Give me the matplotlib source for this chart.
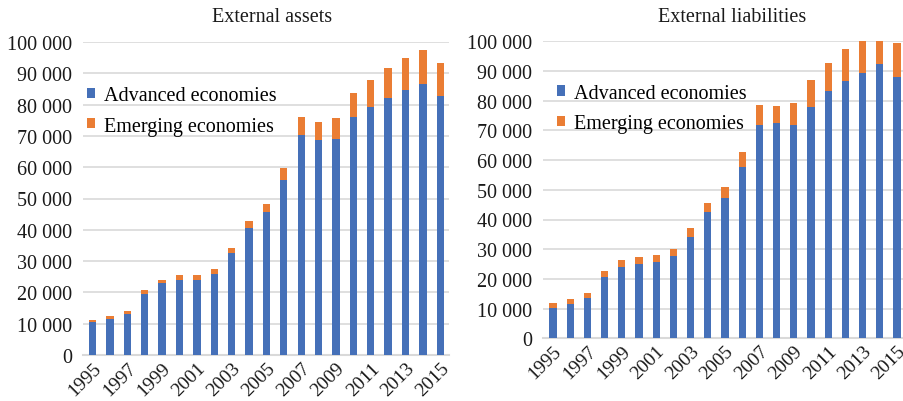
import matplotlib
matplotlib.use("Agg")
import matplotlib.pyplot as plt
from matplotlib.ticker import FuncFormatter, MultipleLocator
import numpy as np

years = list(range(1995, 2016))
tick_labels = [str(y) for y in years]

assets_advanced = [10400, 11600, 13200, 19600, 22900, 24100, 24000, 26000, 32500, 40500,
                   45600, 55900, 70400, 68700, 69000, 76100, 79300, 82200, 84700, 86600, 82800]
assets_total = [11100, 12600, 14200, 20800, 24100, 25400, 25400, 27600, 34300, 42700,
                48400, 59600, 75900, 74500, 75700, 83600, 87800, 91600, 95000, 97400, 93300]
liab_advanced = [10300, 11600, 13500, 20700, 24000, 25100, 25700, 27700, 34200, 42600,
                 47100, 57600, 71800, 72600, 71900, 78000, 83400, 86700, 89400, 92400, 88100]
liab_total = [11800, 13400, 15400, 22800, 26300, 27400, 27900, 30200, 37000, 45700,
              50900, 62600, 78400, 78200, 79100, 87000, 92800, 97500, 103000, 106000, 99300]

assets_emerging = [t - a for t, a in zip(assets_total, assets_advanced)]
liab_emerging = [t - a for t, a in zip(liab_total, liab_advanced)]

BLUE = "#4570B8"
ORANGE = "#EA7D34"
GRID = "#D9D9D9"
plt.rcParams["font.family"] = ["Liberation Serif", "DejaVu Serif"]

fig = plt.figure(figsize=(9.04, 4.02), dpi=100)

def fmt(v, pos):
    return f"{v:,.0f}".replace(",", " ")

def panel(rect, adv, emg, title, xlim, title_x, title_y, leg_anchor):
    ax = fig.add_axes(rect)
    x = np.arange(len(years))
    ax.bar(x, adv, width=0.42, color=BLUE, label="Advanced economies", zorder=3)
    ax.bar(x, emg, width=0.42, bottom=adv, color=ORANGE, label="Emerging economies", zorder=3)
    ax.set_ylim(0, 100000)
    ax.set_xlim(*xlim)
    ax.yaxis.set_major_locator(MultipleLocator(10000))
    ax.yaxis.set_major_formatter(FuncFormatter(fmt))
    ax.grid(axis="y", color=GRID, linewidth=1.2, zorder=0)
    for s in ["top", "right", "left"]:
        ax.spines[s].set_visible(False)
    ax.spines["bottom"].set_color(GRID)
    ax.spines["bottom"].set_linewidth(1.5)
    ax.set_xticks(x[::2])
    ax.set_xticklabels(tick_labels[::2], rotation=45, ha="right", rotation_mode="anchor")
    ax.tick_params(axis="y", length=0, labelsize=14.5, colors="#1a1a1a", pad=8)
    ax.tick_params(axis="x", length=0, labelsize=14, colors="#1a1a1a", pad=3)
    fig.text(title_x, title_y, title, ha="center", va="center", fontsize=14.5, color="#1a1a1a")
    ax.legend(loc="upper left", bbox_to_anchor=leg_anchor, frameon=False, fontsize=14.5,
              handlelength=0.4, handleheight=0.4, handletextpad=0.45, labelspacing=0.55,
              borderpad=0, borderaxespad=0)
    return ax

panel([83 / 904, 46 / 402, 366 / 904, 313 / 402], assets_advanced, assets_emerging,
      "External assets", (-0.55, 20.5), 272 / 904, 1 - 18 / 402, (0.011, 0.858))
panel([543 / 904, 62.7 / 402, 366 / 904, 297 / 402], liab_advanced, liab_emerging,
      "External liabilities", (-0.58, 20.7), 732 / 904, 1 - 18 / 402, (0.038, 0.857))

fig.savefig("out.png", dpi=100)
